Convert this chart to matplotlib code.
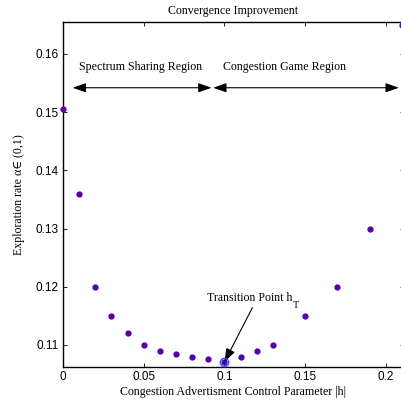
import matplotlib
matplotlib.use("Agg")
import matplotlib.pyplot as plt

h = [0.0, 0.01, 0.02, 0.03, 0.04, 0.05, 0.06, 0.07, 0.08, 0.09, 0.10,
     0.11, 0.12, 0.13, 0.15, 0.17, 0.19, 0.21]
rate = [0.1505, 0.136, 0.120, 0.115, 0.112, 0.110, 0.109, 0.1085, 0.108,
        0.1075, 0.107, 0.108, 0.109, 0.110, 0.115, 0.120, 0.130, 0.165]
h_T = 0.10
rate_T = 0.107

serif = ['Liberation Serif', 'DejaVu Serif']
sans = ['Liberation Sans', 'DejaVu Sans']
fs = 8.6

fig = plt.figure(figsize=(4.02, 4.03), dpi=100)
ax = fig.add_axes([63 / 402, 36 / 403, 341 / 402, 345 / 403])

ax.plot(h, rate, 'o', color='#5500aa', markersize=3.5, clip_on=False, zorder=3)
ax.plot([h_T], [rate_T], 'o', mfc='none', mec='#2255ff', markersize=6, mew=1, zorder=4)

ax.set_xlim(0, 0.2112)
ax.set_ylim(0.1062, 0.1655)
ax.set_xticks([0, 0.05, 0.1, 0.15, 0.2])
ax.set_xticklabels(['0', '0.05', '0.1', '0.15', '0.2'])
ax.set_yticks([0.11, 0.12, 0.13, 0.14, 0.15, 0.16])
ax.tick_params(direction='in', top=True, right=True, length=3, width=0.6, labelsize=8.5, pad=3)
for lab in ax.get_xticklabels() + ax.get_yticklabels():
    lab.set_family(sans)
for s in ax.spines.values():
    s.set_linewidth(1.0)
ax.spines['right'].set_visible(False)

# region arrows
y_arr = 0.1542
aprops = dict(arrowstyle='<|-|>,head_length=0.8,head_width=0.28', color='black', lw=0.8,
              shrinkA=0, shrinkB=0)
ax.annotate('', xy=(0.092, y_arr), xytext=(0.006, y_arr), arrowprops=aprops)
ax.annotate('', xy=(0.208, y_arr), xytext=(0.093, y_arr), arrowprops=aprops)
ax.text(0.048, 0.1577, 'Spectrum Sharing Region', ha='center', va='center', fontsize=fs, family=serif)
ax.text(0.137, 0.1577, 'Congestion Game Region', ha='center', va='center', fontsize=fs, family=serif)

# transition point
ax.annotate('', xy=(h_T, 0.10708), xytext=(0.1173, 0.1164),
            arrowprops=dict(arrowstyle='-|>,head_length=0.8,head_width=0.28', color='black', lw=0.8,
                            shrinkA=0, shrinkB=0))
t = ax.text(0.1155, 0.1181, 'Transition Point h', ha='center', va='center', fontsize=fs, family=serif)
ax.annotate('T', xy=(1, 0), xycoords=t, xytext=(0.5, -1.5), textcoords='offset points',
            ha='left', va='center', fontsize=fs * 0.85, family=serif)

ax.set_title('Convergence Improvement', fontsize=fs, family=serif, pad=6)
ax.set_xlabel('Congestion Advertisment Control Parameter |h|', fontsize=fs, family=serif, labelpad=2)
ax.set_ylabel('Exploration rate α∈ (0,1)', fontsize=fs, family=serif, labelpad=8)

fig.savefig('out.png', dpi=100)
